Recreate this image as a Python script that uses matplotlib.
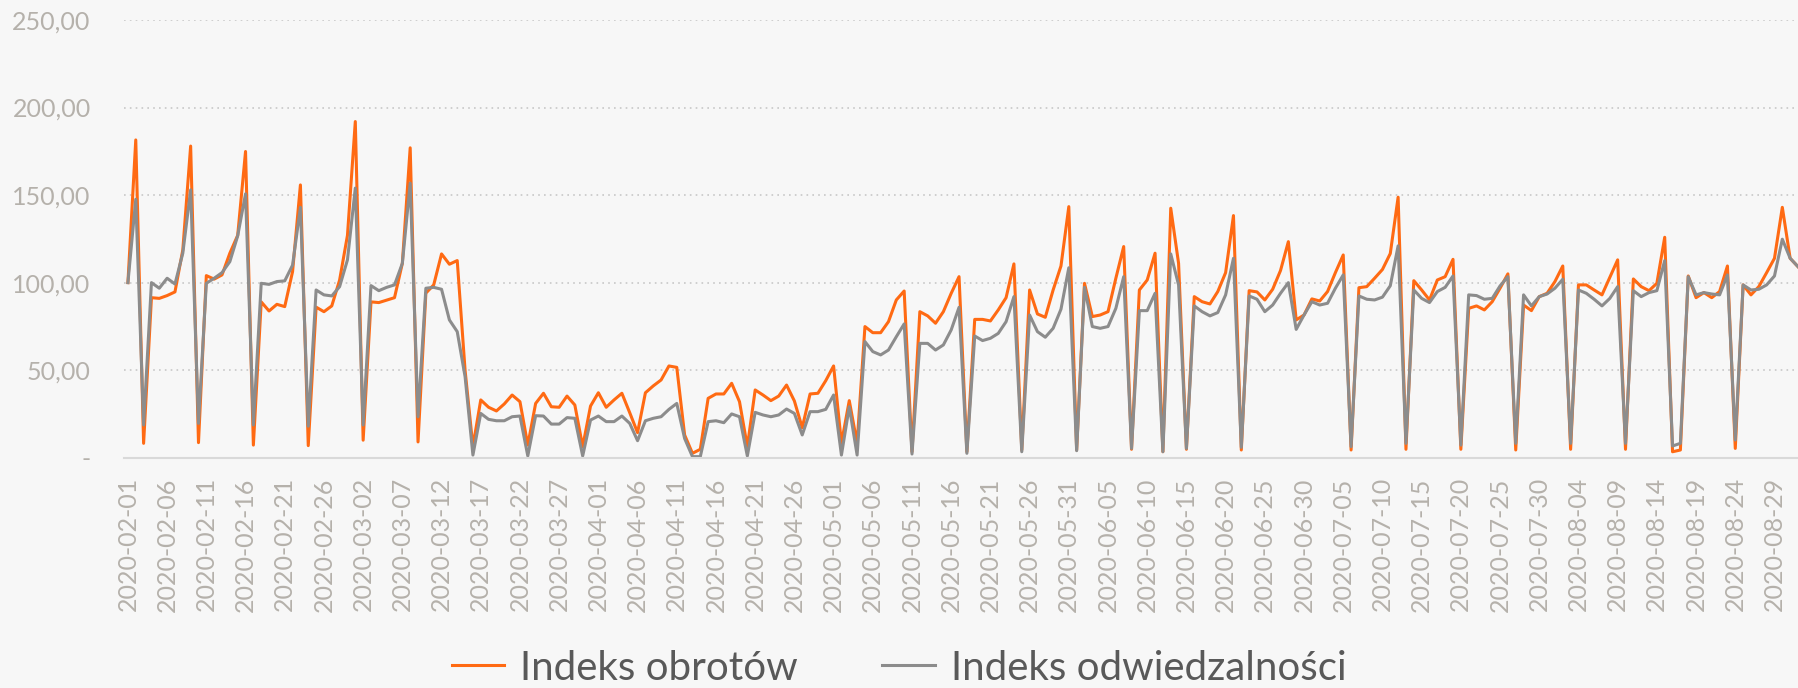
"""
Indeks obrotów vs Indeks odwiedzalności - daily line chart.
"""

import matplotlib.pyplot as plt
import pandas as pd
import numpy as np

plt.rcParams['font.family'] = ['Lato', 'DejaVu Sans']

# Daily values, starting 2020-02-01
obroty = [
    100, 181.5, 8.2, 91.4, 91, 92.6, 94.7, 118.7, 178, 8.6,
    104, 102, 104.4, 116.8, 127, 174.9, 7.2, 89, 83.8, 87.6,
    86.3, 106.3, 155.8, 6.9, 86, 83.4, 86.7, 101.5, 127, 192,
    10, 89, 88.6, 90, 91.4, 111, 177, 9, 94, 98.7,
    116.4, 110.5, 112.6, 50, 6.3, 33, 28.8, 26.7, 30.7, 35.8,
    32, 7.2, 31, 36.8, 29.1, 28.8, 35.2, 30.1, 6.3, 29.5,
    37.1, 28.8, 33, 36.8, 25.7, 14.3, 37.1, 41, 44.4, 52.4,
    51.6, 13, 2.5, 4.8, 33.9, 36.4, 36.4, 42.5, 32, 6.3,
    38.7, 35.8, 32.6, 35.2, 41.5, 32.4, 17.1, 36.4, 36.8, 44,
    52.4, 8.2, 32.6, 8.2, 74.9, 71.4, 71.4, 77.7, 90.1, 95.2,
    3.4, 83.4, 81, 76.8, 83.4, 93.9, 103.4, 3.4, 79, 79,
    78.1, 84.4, 91.4, 110.7, 4.4, 95.8, 82.1, 80.2, 95.8, 109.5,
    143.4, 4.4, 99.6, 80.6, 81.5, 83.4, 102.5, 120.6, 4.8, 95.8,
    101.5, 116.8, 3.4, 142.5, 111, 4.8, 92, 89.1, 87.8, 94.9,
    105.7, 138.3, 4.4, 95.4, 94.7, 90.1, 96.2, 106.9, 123.4, 78.7,
    81.5, 90.7, 89.5, 94.9, 105.7, 115.8, 4.4, 97.1, 97.7, 102.5,
    107.5, 116.6, 148.8, 4.8, 101.1, 95.8, 90.1, 101.5, 103.4, 113.3,
    4.8, 85.3, 86.7, 84.4, 89.1, 96.8, 105, 4.4, 87.2, 84,
    92, 93.9, 100.6, 109.5, 4.8, 98.7, 98.7, 95.8, 93, 103,
    113, 4.8, 102.1, 97.7, 95.4, 99.6, 125.9, 3.4, 4.4, 103.8,
    91.4, 94.3, 91.4, 94.9, 109.5, 5.3, 98.7, 93, 97.7, 105.7,
    113.9, 143, 113.9, 109.1,
]

odwiedzalnosc = [
    100, 147.6, 18.7, 100, 96.8, 102.5, 99.2, 116.8, 153, 19.6,
    99.6, 102.5, 105.7, 112, 126.7, 150.7, 18.7, 99.6, 99, 100.6,
    101, 110, 143, 18, 95.8, 93, 92.4, 97.7, 113, 154,
    18.7, 98.3, 95.4, 97.3, 98.7, 111, 156.8, 23.4, 96.8, 97.3,
    96.2, 78.7, 72, 46.3, 1.5, 25.3, 21.9, 21.1, 21.1, 23.4,
    23.8, 1, 24, 23.8, 19.2, 19.2, 22.9, 22.5, 1, 21.5,
    23.8, 20.6, 20.6, 23.8, 19.6, 9.7, 21.1, 22.5, 23.4, 27.6,
    31, 11, 0.6, 0.6, 20.6, 21.1, 20, 25, 23.4, 1,
    25.9, 24.4, 23.4, 24.4, 27.8, 25.3, 13, 26.3, 26.3, 27.6,
    35.8, 1.5, 29.1, 1.5, 66.3, 60.6, 58.7, 61.5, 69.1, 76.4,
    2.1, 65.3, 65.3, 61.5, 64.4, 73, 85.9, 2.5, 69.5, 66.9,
    68.2, 71, 77.7, 92, 3.4, 81.5, 72, 68.8, 73.9, 84.8,
    108.5, 4, 97.3, 74.9, 73.9, 74.9, 85.3, 103.4, 5.3, 84,
    84, 93.9, 3.4, 116.4, 98.7, 5.3, 86.7, 83.4, 81, 82.9,
    93, 113.9, 5.9, 92.4, 90.5, 83.4, 87.2, 93.9, 100, 73.3,
    81.5, 89.1, 87.2, 88.2, 96.8, 104.4, 6.3, 92.4, 90.5, 90.1,
    91.7, 98.2, 121, 8.2, 95.8, 91, 88.6, 94.9, 97.3, 103.8,
    7.2, 93, 92.6, 90.5, 91, 98.1, 103.4, 8.2, 93, 86.7,
    92, 93.5, 96.8, 101.9, 8.2, 95.8, 93.9, 90.5, 86.7, 91,
    97.7, 8.2, 95.4, 92, 94.3, 95.4, 112.6, 6.7, 8.2, 103.4,
    93, 94.3, 93.5, 93, 104.4, 10.1, 98.7, 95.8, 96.2, 98.7,
    103.8, 124.8, 113.9, 109.1,
]

dates = pd.date_range('2020-02-01', periods=len(obroty), freq='D')
labels = ['Indeks obrotów', 'Indeks odwiedzalności']
y_ticks = [0, 50, 100, 150, 200, 250]

bg = '#F7F7F7'
fig = plt.figure(figsize=(17.98, 6.88), dpi=100, facecolor=bg)
ax = fig.add_axes([124 / 1798, 230.3 / 688, 1 - 124 / 1798, 437.7 / 688])
ax.set_facecolor(bg)

x = np.arange(len(obroty))
ax.plot(x, obroty, color='#FF6A13', lw=2.2, label=labels[0], zorder=3)
ax.plot(x, odwiedzalnosc, color='#8C8C8C', lw=2.2, label=labels[1], zorder=4)

ax.set_xlim(-0.5, len(obroty) - 1)
ax.set_ylim(0, 250)

# y axis: Excel-like number format with "-" for zero
ax.set_yticks(y_ticks)
ax.set_yticklabels(['-' if v == 0 else f"{v:.2f}".replace('.', ',') for v in y_ticks])
ax.tick_params(axis='y', length=0, pad=24, labelsize=18, labelcolor='#B5B1AB')

# x axis: every 5th day
ax.set_xticks(x[::5])
ax.set_xticklabels([d.strftime('%Y-%m-%d') for d in dates[::5]], rotation=90)
ax.tick_params(axis='x', length=0, pad=14, labelsize=18, labelcolor='#B5B1AB')

ax.grid(axis='y', color='#C8C8C8', linestyle=(0, (1, 2.5)), lw=1.2)
ax.grid(axis='x', visible=False)
ax.set_axisbelow(True)
for side in ['top', 'right', 'left']:
    ax.spines[side].set_visible(False)
ax.spines['bottom'].set_color('#D9D9D9')
ax.spines['bottom'].set_linewidth(1.5)
ax.spines['bottom'].set_zorder(5)

handles, _ = ax.get_legend_handles_labels()
leg = fig.legend(handles, labels, loc='center', bbox_to_anchor=(0.5, 1 - 668 / 688),
                 ncol=2, frameon=False, fontsize=29, handlelength=1.3,
                 handletextpad=0.4, columnspacing=2.1)
for t in leg.get_texts():
    t.set_color('#595959')

fig.savefig('out.png', dpi=100, facecolor=bg)
